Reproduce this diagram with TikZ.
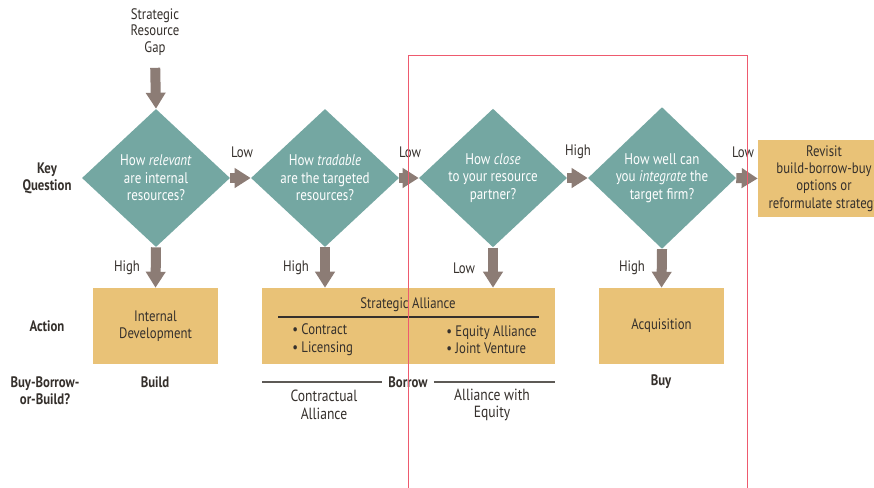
\documentclass[tikz,border=0pt]{standalone}
\usepackage{fontspec}
\setmainfont{PT Sans}[FakeStretch=0.84]
\usetikzlibrary{arrows.meta,shapes.geometric,positioning,calc}
\definecolor{gap-teal}{HTML}{74A7A2}
\definecolor{gap-brown}{HTML}{8C7C75}
\definecolor{gap-sand}{HTML}{E9C277}
\definecolor{gap-ink}{HTML}{35302C}
\definecolor{gap-red}{HTML}{EE5A6E}

\begin{document}
\begin{tikzpicture}[x=0.025cm, y=-0.025cm,
  question/.style={diamond, fill=gap-teal, text=white, minimum width=3.7cm, minimum height=3.45cm, inner sep=0pt, align=center, font=\fontsize{11}{12.5}\selectfont},
  action/.style={rectangle, fill=gap-sand, text=gap-ink, minimum height=1.9cm, align=center, font=\fontsize{10.8}{12.2}\selectfont},
  flow/.style={-{Triangle[width=0.475cm,length=0.4cm]}, line width=0.25cm, gap-brown},
  lbl/.style={text=gap-ink, font=\fontsize{10.8}{11.8}\selectfont, inner sep=0pt},
  rowlbl/.style={lbl, font=\bfseries\fontsize{10.8}{12.2}\selectfont, align=center},
  rule/.style={gap-ink!80, line width=0.8pt}
]

    \useasboundingbox (0,0) rectangle (874,487);
    \fill[white] (0,0) rectangle (874,487);
    \clip (0,0) rectangle (874,487);

    \node[lbl, align=center] (gap) at (155,32) {Strategic\\Resource\\Gap};

    \node[question] (relevant) at (156,178) {How \textit{relevant}\\are internal\\resources?};
    \node[question] (tradable) at (325,178) {How \textit{tradable}\\are the targeted\\resources?};
    \node[question] (close) at (493,178) {How \textit{close}\\to your resource\\partner?};
    \node[question] (integrate) at (662,178) {How well can\\you \textit{integrate} the\\target firm?};
    \node[action, minimum width=3.3cm, minimum height=1.925cm] (revisit) at (824,178.5) {Revisit\\build-borrow-buy\\options or\\reformulate strategy};

    \node[action, minimum width=3.125cm] (internal) at (155.5,326) {Internal\\Development};
    \node[action, minimum width=7.325cm] (alliance) at (408.5,326) {};
    \node[action, minimum width=3.125cm] (acquisition) at (661.5,326) {Acquisition};

    \node[lbl] (alliancetitle) at (408,305) {Strategic Alliance};
    \coordinate (rulel) at (278,317);
    \coordinate (ruler) at (539,317);
    \draw[gap-ink, line width=0.9pt] (rulel) -- (ruler);
    \node[lbl, anchor=west, align=left, font=\fontsize{10.8}{12.4}\selectfont] (contract) at (292,339.5) {\textbullet\ Contract\\\textbullet\ Licensing};
    \node[lbl, anchor=west, align=left, font=\fontsize{10.8}{12.4}\selectfont] (equity) at (446,339.5) {\textbullet\ Equity Alliance\\\textbullet\ Joint Venture};

    \draw[flow, shorten <=0.3cm] (gap.south) -- (relevant.north);
    \draw[flow] (relevant.east) -- (tradable.west);
    \draw[flow] (tradable.east) -- (close.west);
    \draw[flow] (close.east) -- (integrate.west);
    \draw[flow] (integrate.east) -- (revisit.west);

    \draw[flow] (relevant.south) -- (internal.north);
    \draw[flow] (tradable.south) -- (tradable.south |- alliance.north);
    \draw[flow] (close.south) -- (close.south |- alliance.north);
    \draw[flow] (integrate.south) -- (acquisition.north);

    \node[lbl] (lowa) at (242,152) {Low};
    \node[lbl] (lowb) at (410,152) {Low};
    \node[lbl] (highc) at (578,152) {High};
    \node[lbl] (lowd) at (743,152) {Low};

    \node[lbl] (higha) at (127,268) {High};
    \node[lbl] (highb) at (296,268) {High};
    \node[lbl] (lowc) at (464,268) {Low};
    \node[lbl] (highd) at (632,268) {High};

    \node[rowlbl] (keyq) at (47,178.5) {Key\\Question};
    \node[rowlbl] (actionlbl) at (47,326) {Action};
    \node[rowlbl] (bbb) at (45,390.5) {Buy-Borrow-\\or-Build?};

    \node[rowlbl] (build) at (155,382) {Build};
    \node[rowlbl] (buy) at (661,382) {Buy};
    \node[rowlbl, inner xsep=0.15cm] (borrow) at (408,382) {Borrow};
    \coordinate (borrowl) at (262,382);
    \coordinate (borrowr) at (555,382);
    \draw[rule] (borrowl) -- (borrow.west);
    \draw[rule] (borrow.east) -- (borrowr);

    \node[lbl, align=center, font=\fontsize{11.5}{12.6}\selectfont] (contractual) at (324,405) {Contractual\\Alliance};
    \node[lbl, align=center, font=\fontsize{11.5}{12.6}\selectfont] (withequity) at (492,405) {Alliance with\\Equity};

    \draw[gap-red, line width=0.6pt] (408,500) |- (747,55) -- (747,500);
\end{tikzpicture}
\end{document}
